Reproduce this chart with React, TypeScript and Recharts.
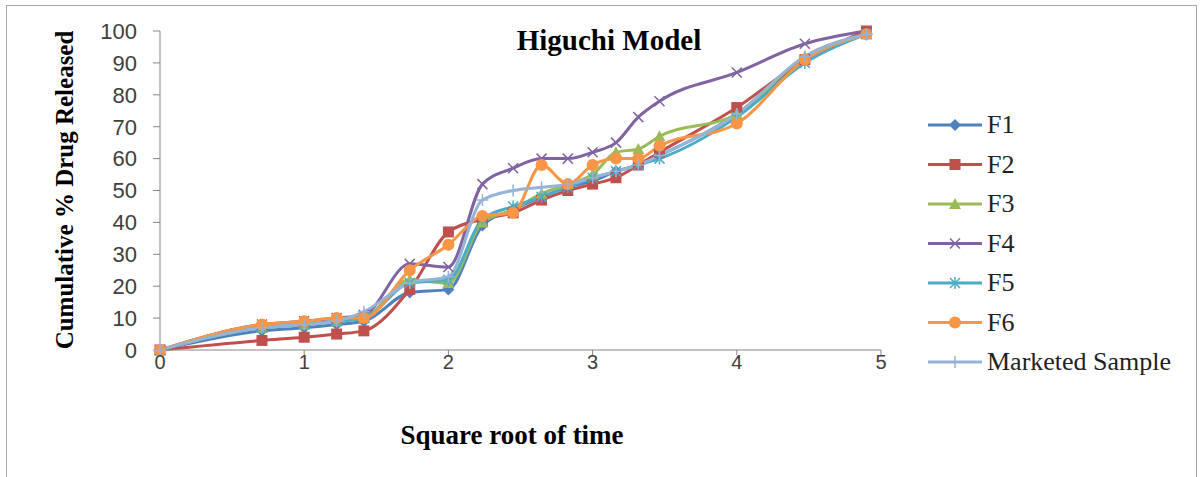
import React from "react";
import { LineChart, Line, XAxis, YAxis } from "recharts";

// square root of sampling time (h^0.5)
const sqrtTime = [0, 0.707, 1, 1.225, 1.414, 1.732, 2, 2.236, 2.449, 2.646, 2.828, 3, 3.162, 3.317, 3.464, 4, 4.472, 4.899];

// cumulative % drug released per formulation
const f1 = [0, 6, 7, 8, 9, 18, 19, 39, 44, 48, 51, 53, 56, 58, 61, 74, 91, 99];
const f2 = [0, 3, 4, 5, 6, 19, 37, 41, 43, 47, 50, 52, 54, 58, 62, 76, 91, 100];
const f3 = [0, 7, 8, 9, 10, 22, 21, 40, 44, 49, 52, 55, 62, 63, 67, 74, 92, 99];
const f4 = [0, 8, 9, 10, 11, 27, 26, 52, 57, 60, 60, 62, 65, 73, 78, 87, 96, 100];
const f5 = [0, 7, 8, 9, 10, 21, 22, 41, 45, 48, 51, 54, 56, 58, 60, 73, 90, 99];
const f6 = [0, 8, 9, 10, 10, 25, 33, 42, 43, 58, 52, 58, 60, 60, 64, 71, 91, 99];
const marketed = [0, 7, 8, 9, 12, 21, 23, 47, 50, 51, 52, 54, 56, 58, 61, 74, 92, 99];

const yTicks = [0, 10, 20, 30, 40, 50, 60, 70, 80, 90, 100];
const xTicks = [0, 1, 2, 3, 4, 5];

type MarkerKind = "diamond" | "square" | "triangle" | "cross" | "star" | "circle" | "plus";

const SERIES: { key: string; name: string; color: string; marker: MarkerKind; values: number[] }[] = [
  { key: "f1", name: "F1", color: "#4F81BD", marker: "diamond", values: f1 },
  { key: "f2", name: "F2", color: "#C0504D", marker: "square", values: f2 },
  { key: "f3", name: "F3", color: "#9BBB59", marker: "triangle", values: f3 },
  { key: "f4", name: "F4", color: "#8064A2", marker: "cross", values: f4 },
  { key: "f5", name: "F5", color: "#4BACC6", marker: "star", values: f5 },
  { key: "f6", name: "F6", color: "#F79646", marker: "circle", values: f6 },
  { key: "ms", name: "Marketed Sample", color: "#95B3D7", marker: "plus", values: marketed },
];

const data = sqrtTime.map((t, i) => {
  const row: Record<string, number> = { t };
  SERIES.forEach((s) => (row[s.key] = s.values[i]));
  return row;
});

function Marker({ kind, x, y, color }: { kind: MarkerKind; x: number; y: number; color: string }) {
  switch (kind) {
    case "diamond":
      return <polygon points={`${x},${y - 6} ${x + 6},${y} ${x},${y + 6} ${x - 6},${y}`} fill={color} />;
    case "square":
      return <rect x={x - 5.5} y={y - 5.5} width={11} height={11} fill={color} />;
    case "triangle":
      return <polygon points={`${x},${y - 6} ${x + 6},${y + 5} ${x - 6},${y + 5}`} fill={color} />;
    case "cross":
      return (
        <path d={`M${x - 5},${y - 5}L${x + 5},${y + 5}M${x - 5},${y + 5}L${x + 5},${y - 5}`} stroke={color} strokeWidth={1.5} />
      );
    case "star":
      return (
        <path
          d={`M${x - 5},${y - 5}L${x + 5},${y + 5}M${x - 5},${y + 5}L${x + 5},${y - 5}M${x},${y - 6}L${x},${y + 6}`}
          stroke={color}
          strokeWidth={1.5}
        />
      );
    case "circle":
      return <circle cx={x} cy={y} r={6} fill={color} />;
    case "plus":
      return <path d={`M${x},${y - 6}L${x},${y + 6}M${x - 6},${y}L${x + 6},${y}`} stroke={color} strokeWidth={1.5} />;
  }
}

const SERIF = '"Liberation Serif", "Times New Roman", serif';
const SANS = '"Liberation Sans", Arial, sans-serif';

function Overlay() {
  return (
    <svg width={1202} height={477} style={{ position: "absolute", left: 0, top: 0, pointerEvents: "none" }}>
      <text x={609} y={50} textAnchor="middle" fontFamily={SERIF} fontWeight="bold" fontSize={29} fill="#000">
        Higuchi Model
      </text>
      <text
        transform="translate(73,190) rotate(-90)"
        textAnchor="middle"
        fontFamily={SERIF}
        fontWeight="bold"
        fontSize={25}
        fill="#000"
      >
        Cumulative % Drug Released
      </text>
      <text x={512} y={444} textAnchor="middle" fontFamily={SERIF} fontWeight="bold" fontSize={27} fill="#000">
        Square root of time
      </text>
      {SERIES.map((s, i) => {
        const y = 125 + i * 39.5;
        return (
          <g key={s.key}>
            <line x1={928} x2={982} y1={y} y2={y} stroke={s.color} strokeWidth={3} />
            <Marker kind={s.marker} x={955} y={y} color={s.color} />
            <text x={987} y={y + 8} fontFamily={SERIF} fontSize={26} fill="#222">
              {s.name}
            </text>
          </g>
        );
      })}
    </svg>
  );
}

export default function App() {
  return (
    <div style={{ position: "absolute", left: 0, top: 0, width: 1202, height: 477, background: "#fff", overflow: "hidden" }}>
      <div
        style={{
          position: "absolute",
          left: 6,
          top: 5,
          width: 1189,
          height: 490,
          border: "1px solid #a6a6a6",
          borderBottom: "none",
        }}
      />
      <LineChart width={1202} height={477} data={data} margin={{ top: 31, right: 321, left: 0, bottom: 97 }}>
        <XAxis
          dataKey="t"
          type="number"
          domain={[0, 5]}
          ticks={xTicks}
          height={30}
          tickSize={5}
          tickMargin={0}
          stroke="#868686"
          tick={{ fill: "#404040", fontSize: 20, fontFamily: SANS }}
        />
        <YAxis
          type="number"
          domain={[0, 100]}
          ticks={yTicks}
          width={160}
          tickSize={7}
          tickMargin={16}
          stroke="#868686"
          tick={{ fill: "#404040", fontSize: 22, fontFamily: SANS }}
        />
        {SERIES.map((s) => (
          <Line
            key={s.key}
            dataKey={s.key}
            name={s.name}
            type="monotone"
            stroke={s.color}
            strokeWidth={3}
            isAnimationActive={false}
            dot={(p: any) => <Marker key={`${s.key}-${p.index}`} kind={s.marker} x={p.cx} y={p.cy} color={s.color} />}
          />
        ))}
      </LineChart>
      <Overlay />
    </div>
  );
}
